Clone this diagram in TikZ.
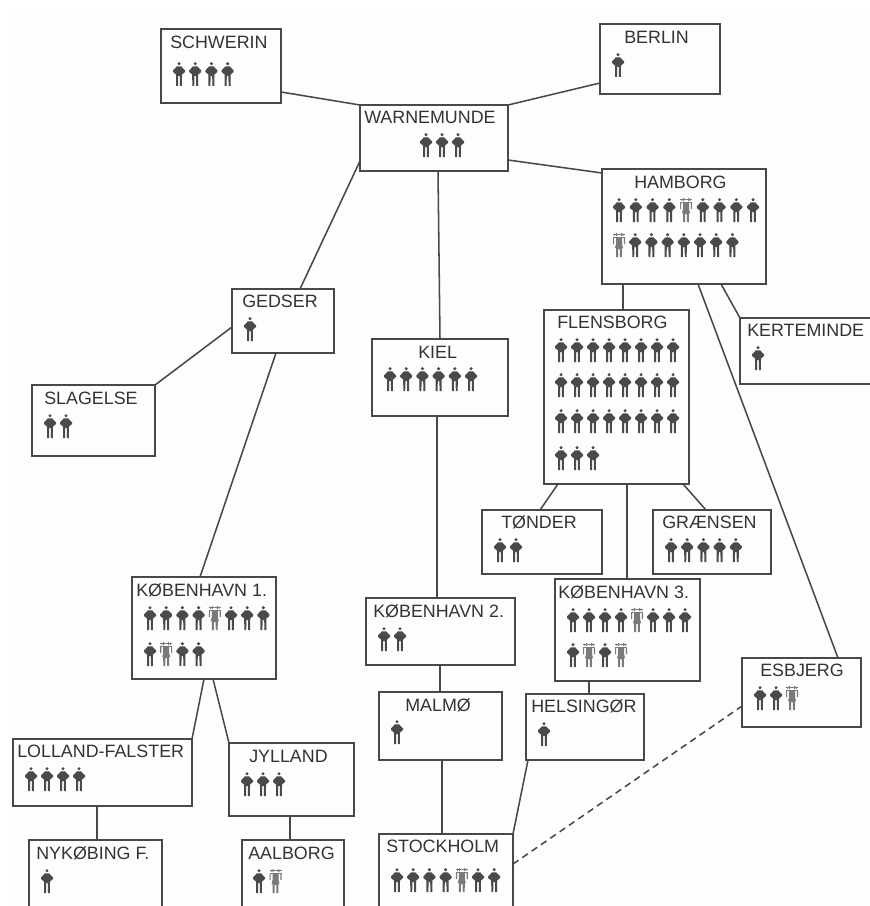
\documentclass[tikz,border=0pt]{standalone}
\usepackage{fontspec}
\setmainfont{Liberation Sans}
\definecolor{ink}{HTML}{333333}
\definecolor{edgecol}{HTML}{484848}
\definecolor{paper}{HTML}{FDFDFD}
\definecolor{mancol}{HTML}{4A4A4A}
\definecolor{womancol}{HTML}{7A7A7A}
\tikzset{
  boxnode/.style={draw=edgecol,line width=1.15pt,fill=paper,inner sep=0pt,outer sep=0pt},
  title/.style={anchor=west,inner sep=0pt,text=ink,font=\fontsize{13.4pt}{15pt}\selectfont},
  link/.style={draw=edgecol,line width=1.15pt},
  pics/m/.style={code={
    \fill[mancol] (0,-10.3) circle (1.7);
    \fill[mancol] (-2.2,-7.6) -- (2.2,-7.6) -- (6,-3.6) -- (6,-2) -- (3,0.5) -- (2.9,12) -- (1,12) -- (0.8,2) -- (-0.8,2) -- (-1,12) -- (-2.9,12) -- (-3,0.5) -- (-6,-2) -- (-6,-3.6) -- cycle;
  }},
  pics/w/.style={code={
    \fill[womancol] (-6,-10.7) rectangle (6,-9.9);
    \fill[womancol] (-3,-12) rectangle (-2,-9) (3,-12) rectangle (2,-9) (-4.6,-11.4) rectangle (-3.9,-9.2) (4.6,-11.4) rectangle (3.9,-9.2);
    \fill[womancol] (-6,-8) rectangle (6,-6.8);
    \fill[womancol] (-6,-6.8) rectangle (-4.8,-1) (6,-6.8) rectangle (4.8,-1);
    \fill[womancol] (-3,-7) -- (3,-7) -- (3,-1) -- (4,3) -- (3,3) -- (2.9,12) -- (1,12) -- (0.8,4) -- (-0.8,4) -- (-1,12) -- (-2.9,12) -- (-3,3) -- (-4,3) -- (-3,-1) -- cycle;
  }},
}
\newcommand{\tbox}[5]{\node[boxnode,minimum width={(#4-#2)*0.75pt},minimum height={(#5-#3)*0.75pt}] (#1) at ({(#2+#4)/2},{(#3+#5)/2}) {};}
\newcommand{\ppl}[4]{\foreach \k [count=\n from 0] in {#4} {\pic at ({#1+#3*\n},#2) {\k};}}
\newcommand{\lnk}[5][]{\draw[link,#1] ([shift={(#3)}]#2.north west) -- ([shift={(#5)}]#4.north west);}
\begin{document}
\begin{tikzpicture}[x=0.75pt,y=-0.75pt]
\useasboundingbox (0,0) rectangle (870,906);
\clip (0,0) rectangle (870,906);
\fill[white] (0,0) rectangle (870,906);
\fill[paper] (8,10) rectangle (870,906);
% boxes
\tbox{schwerin}{161}{29}{281}{103}
\tbox{berlin}{600}{24}{720}{94}
\tbox{warn}{360}{105}{508}{171}
\tbox{hamborg}{602}{169}{766}{284}
\tbox{gedser}{232}{289}{334}{353}
\tbox{kiel}{372}{339}{508}{416}
\tbox{flens}{544}{310}{689}{484}
\tbox{kert}{740}{318}{885}{384}
\tbox{slag}{32}{385}{155}{456}
\tbox{tonder}{482}{510}{602}{574}
\tbox{graensen}{653}{510}{771}{574}
\tbox{kbh1}{132}{577}{276}{679}
\tbox{kbh2}{366}{598}{515}{665}
\tbox{kbh3}{555}{579}{700}{681}
\tbox{malmo}{379}{692}{502}{760}
\tbox{hels}{526}{694}{644}{760}
\tbox{esb}{742}{658}{861}{727}
\tbox{lolland}{13}{739}{192}{806}
\tbox{jylland}{229}{743}{354}{816}
\tbox{nyk}{29}{840}{162}{930}
\tbox{aalborg}{242}{840}{344}{930}
\tbox{stock}{379}{834}{513}{930}
% connectors
\lnk{schwerin}{120,63}{warn}{0,0}
\lnk{berlin}{0,59}{warn}{148,0}
\lnk{warn}{148,55}{hamborg}{0,4}
\lnk{warn}{0,56}{gedser}{68,0}
\lnk{warn}{78,66}{kiel}{68,0}
\lnk{hamborg}{21,115}{flens}{79,0}
\lnk{hamborg}{119,115}{kert}{0,0}
\lnk{hamborg}{96,115}{esb}{96,0}
\lnk{gedser}{0,38}{slag}{123,0}
\lnk{gedser}{44,64}{kbh1}{68,0}
\lnk{kiel}{65,77}{kbh2}{71,0}
\lnk{kbh2}{74,67}{malmo}{61,0}
\lnk{malmo}{63,68}{stock}{63,0}
\lnk{flens}{14,174}{tonder}{58,0}
\lnk{flens}{139,174}{graensen}{53,0}
\lnk{flens}{83,174}{kbh3}{72,0}
\lnk{kbh3}{34,102}{hels}{63,0}
\lnk{hels}{2,66}{stock}{134,0}
\lnk[dash pattern=on 5pt off 3.5pt]{stock}{134,30}{esb}{0,48}
\lnk{kbh1}{72,102}{lolland}{179,0}
\lnk{kbh1}{81,102}{jylland}{0,0}
\lnk{lolland}{84,67}{nyk}{68,0}
\lnk{jylland}{61,73}{aalborg}{48,0}
% titles
\node[title] (t1) at (170,42) {SCHWERIN};
\node[title] (t2) at (624,37) {BERLIN};
\node[title] (t3) at (364,117) {WARNEMUNDE};
\node[title] (t4) at (634,182) {HAMBORG};
\node[title] (t5) at (242,301) {GEDSER};
\node[title] (t6) at (418,352) {KIEL};
\node[title] (t7) at (557,322) {FLENSBORG};
\node[title] (t8) at (747,330) {KERTEMINDE};
\node[title] (t9) at (44,398) {SLAGELSE};
\node[title] (t10) at (501,522) {TØNDER};
\node[title] (t11) at (662,522) {GRÆNSEN};
\node[title] (t12) at (136,590) {KØBENHAVN 1.};
\node[title] (t13) at (373,611) {KØBENHAVN 2.};
\node[title] (t14) at (558,592) {KØBENHAVN 3.};
\node[title] (t15) at (405,705) {MALMØ};
\node[title] (t16) at (531,706) {HELSINGØR};
\node[title] (t17) at (760,670) {ESBJERG};
\node[title] (t18) at (17,751) {LOLLAND-FALSTER};
\node[title] (t19) at (249,756) {JYLLAND};
\node[title] (t20) at (36,853) {NYKØBING F.};
\node[title] (t21) at (248,853) {AALBORG};
\node[title] (t22) at (386,846) {STOCKHOLM};
% people
\ppl{179}{74}{16.2}{m,m,m,m}
\ppl{618}{65}{16}{m}
\ppl{426}{145}{16}{m,m,m}
\ppl{619}{210}{16.75}{m,m,m,m,w,m,m,m,m}
\ppl{619}{245}{16.2}{w,m,m,m,m,m,m,m}
\ppl{250}{329}{16}{m}
\ppl{390}{379}{16.2}{m,m,m,m,m,m}
\ppl{561}{350}{16}{m,m,m,m,m,m,m,m}
\ppl{561}{385}{16}{m,m,m,m,m,m,m,m}
\ppl{561}{421}{16}{m,m,m,m,m,m,m,m}
\ppl{561}{458}{16}{m,m,m}
\ppl{758}{358}{16}{m}
\ppl{50}{426}{16}{m,m}
\ppl{500}{550}{16}{m,m}
\ppl{671}{550}{16.2}{m,m,m,m,m}
\ppl{150}{618}{16.2}{m,m,m,m,w,m,m,m}
\ppl{150}{654}{16.2}{m,w,m,m}
\ppl{384}{639}{16}{m,m}
\ppl{573}{620}{16}{m,m,m,m,w,m,m,m}
\ppl{573}{655}{16}{m,w,m,w}
\ppl{397}{732}{16}{m}
\ppl{544}{734}{16}{m}
\ppl{760}{698}{16}{m,m,w}
\ppl{31}{779}{16}{m,m,m,m}
\ppl{247}{784}{16}{m,m,m}
\ppl{47}{881}{16}{m}
\ppl{259}{881}{16.5}{m,w}
\ppl{397}{880}{16.2}{m,m,m,m,w,m,m}
\end{tikzpicture}
\end{document}
